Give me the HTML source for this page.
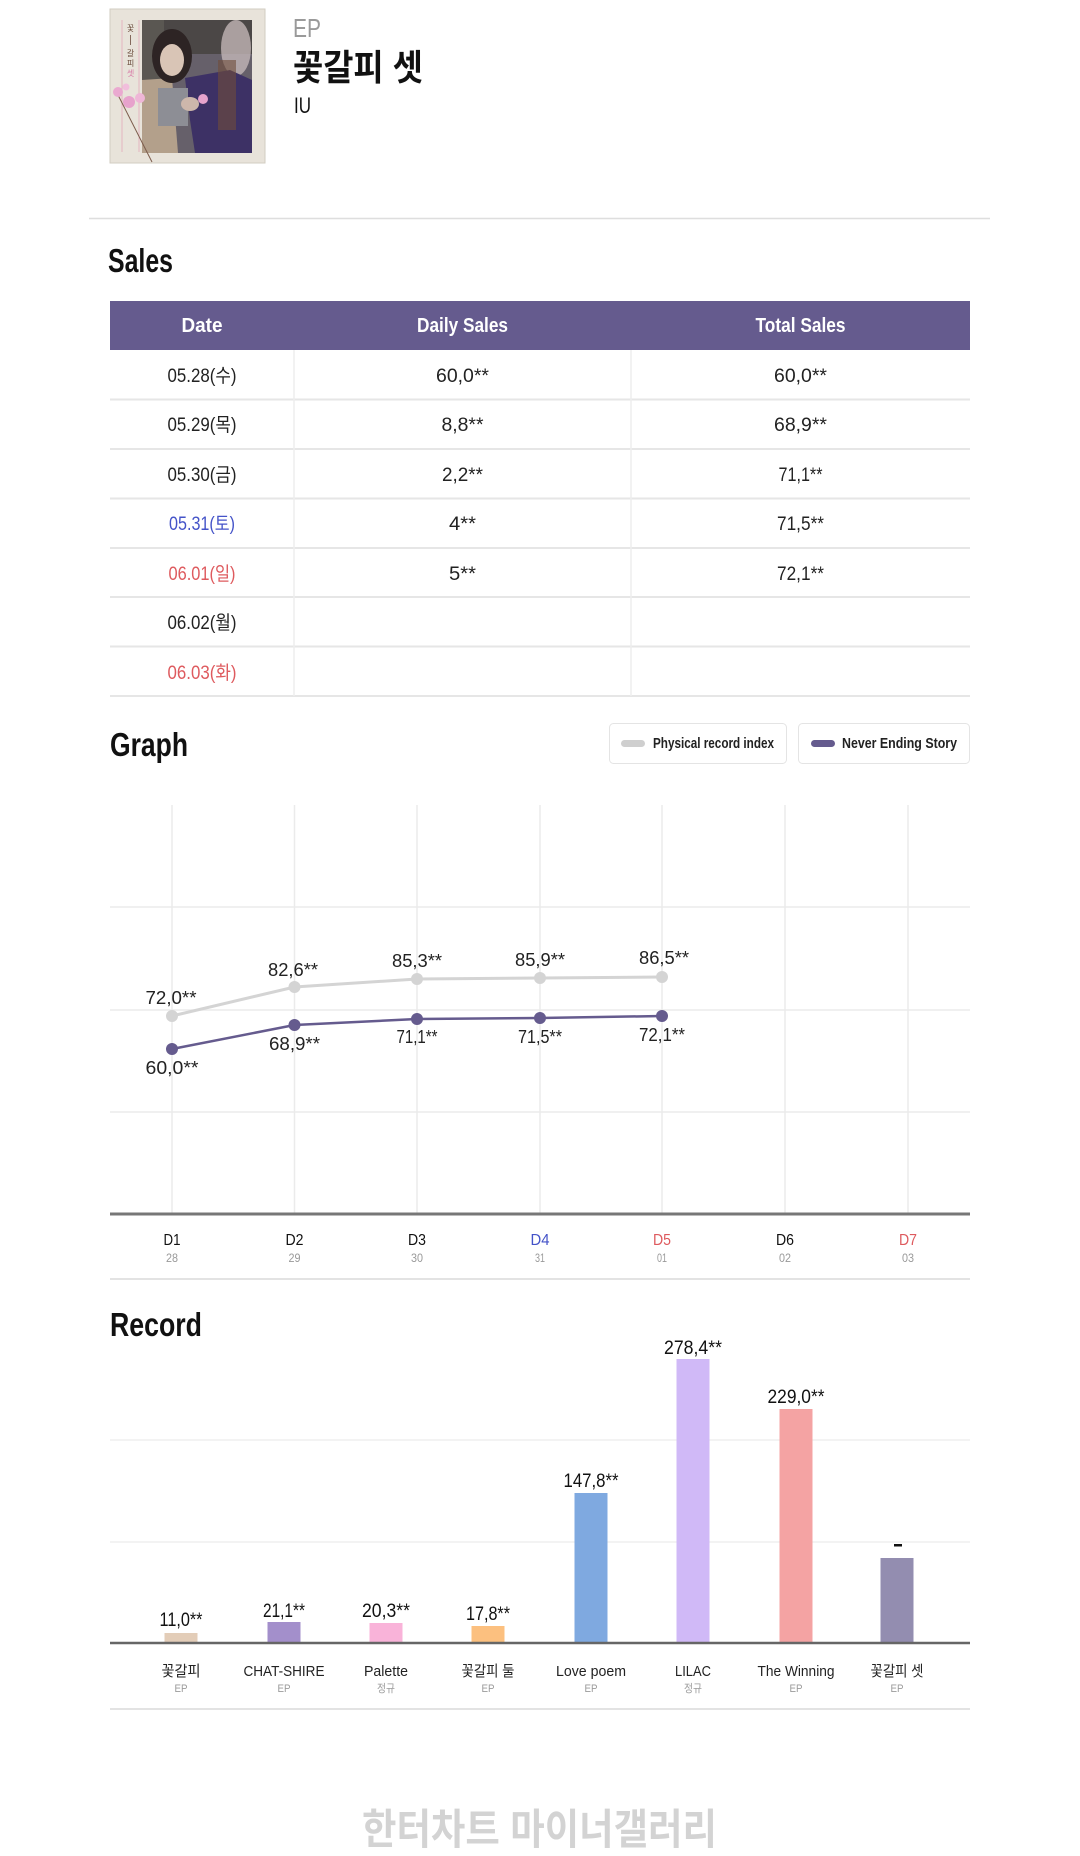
<!DOCTYPE html>
<html><head><meta charset="utf-8">
<style>
html,body{margin:0;padding:0;background:#fff;}
svg{display:block;}
text{font-family:"Liberation Sans","Noto Sans CJK KR",sans-serif;}
</style></head>
<body>
<svg width="1080" height="1856" viewBox="0 0 1080 1856" xmlns="http://www.w3.org/2000/svg">
<rect x="0" y="0" width="1080" height="1856" fill="#fff"/>

<!-- Album cover -->
<rect x="110" y="9" width="155" height="154" fill="#e8e3da" stroke="#d2ccc2" stroke-width="1"/>
<line x1="122" y1="20" x2="122" y2="152" stroke="#e3aab9" stroke-width="0.8"/>
<line x1="139" y1="20" x2="139" y2="152" stroke="#e3aab9" stroke-width="0.8"/>
<text x="130.5" y="31" font-size="8" text-anchor="middle" fill="#6a4c3c">꽃</text>
<line x1="130.5" y1="35" x2="130.5" y2="45" stroke="#6a4c3c" stroke-width="0.8"/>
<text x="130.5" y="56" font-size="8" text-anchor="middle" fill="#6a4c3c">갈</text>
<text x="130.5" y="66" font-size="8" text-anchor="middle" fill="#6a4c3c">피</text>
<text x="130.5" y="76" font-size="8" text-anchor="middle" fill="#d77aa6">셋</text>
<rect x="142" y="20" width="110" height="133" fill="#66606a"/>
<rect x="142" y="20" width="110" height="34" fill="#4b4746"/>
<rect x="142" y="20" width="22" height="60" fill="#5a5752"/>
<ellipse cx="236" cy="48" rx="15" ry="28" fill="#c9bcbe" opacity="0.75"/>
<path d="M142 80 L172 78 L178 153 L142 153 Z" fill="#b3a08b"/>
<ellipse cx="172" cy="56" rx="20" ry="27" fill="#2d2424"/>
<ellipse cx="172" cy="60" rx="12" ry="16" fill="#d9c5b6"/>
<path d="M185 78 L230 70 L252 80 L252 153 L195 153 L190 120 Z" fill="#3d3165"/>
<rect x="158" y="88" width="30" height="38" fill="#8d8e95"/>
<ellipse cx="190" cy="104" rx="9" ry="7" fill="#cdb7ab"/>
<circle cx="203" cy="99" r="5" fill="#e6a3cc"/>
<rect x="218" y="60" width="18" height="70" fill="#6f4d3b" opacity="0.6"/>
<line x1="118" y1="95" x2="152" y2="162" stroke="#7c5c4c" stroke-width="1"/>
<circle cx="118" cy="92" r="5" fill="#eaa9d0"/>
<circle cx="129" cy="102" r="6" fill="#e7a2cc"/>
<circle cx="140" cy="98" r="5" fill="#efb6d7"/>
<circle cx="126" cy="87" r="3.5" fill="#f1bedc"/>

<!-- Header text -->
<text x="293" y="37" font-size="26" fill="#9a9a9a" textLength="28" lengthAdjust="spacingAndGlyphs">EP</text>
<text x="293" y="80" font-size="36" font-weight="bold" fill="#111" textLength="130" lengthAdjust="spacingAndGlyphs">꽃갈피 셋</text>
<text x="294" y="113" font-size="22" fill="#111" textLength="17" lengthAdjust="spacingAndGlyphs">IU</text>

<line x1="89" y1="218.5" x2="990" y2="218.5" stroke="#dedede" stroke-width="1.5"/>

<!-- Sales -->
<text x="108" y="272" font-size="33" font-weight="bold" fill="#111" textLength="65" lengthAdjust="spacingAndGlyphs">Sales</text>
<rect x="110" y="301" width="860" height="49" fill="#655b8e"/>
<text x="202" y="332" font-size="20" font-weight="bold" fill="#fff" text-anchor="middle" textLength="41" lengthAdjust="spacingAndGlyphs">Date</text>
<text x="462.5" y="332" font-size="20" font-weight="bold" fill="#fff" text-anchor="middle" textLength="91" lengthAdjust="spacingAndGlyphs">Daily Sales</text>
<text x="800.5" y="332" font-size="20" font-weight="bold" fill="#fff" text-anchor="middle" textLength="90" lengthAdjust="spacingAndGlyphs">Total Sales</text>

<g stroke="#e6e6e6" stroke-width="2">
<line x1="110" y1="399.5" x2="970" y2="399.5"/>
<line x1="110" y1="449" x2="970" y2="449"/>
<line x1="110" y1="498.5" x2="970" y2="498.5"/>
<line x1="110" y1="548" x2="970" y2="548"/>
<line x1="110" y1="597" x2="970" y2="597"/>
<line x1="110" y1="646.5" x2="970" y2="646.5"/>
<line x1="110" y1="696" x2="970" y2="696"/>
</g>
<g stroke="#ededed" stroke-width="1.5">
<line x1="294" y1="350" x2="294" y2="696"/>
<line x1="631" y1="350" x2="631" y2="696"/>
</g>
<g font-size="19" text-anchor="middle" fill="#222">
<text x="202" y="382" textLength="69" lengthAdjust="spacingAndGlyphs">05.28(수)</text>
<text x="202" y="431" textLength="69" lengthAdjust="spacingAndGlyphs">05.29(목)</text>
<text x="202" y="481" textLength="69" lengthAdjust="spacingAndGlyphs">05.30(금)</text>
<text x="202" y="530" textLength="66" lengthAdjust="spacingAndGlyphs" fill="#4453c8">05.31(토)</text>
<text x="202" y="580" textLength="67" lengthAdjust="spacingAndGlyphs" fill="#de5a5e">06.01(일)</text>
<text x="202" y="629" textLength="69" lengthAdjust="spacingAndGlyphs">06.02(월)</text>
<text x="202" y="679" textLength="69" lengthAdjust="spacingAndGlyphs" fill="#de5a5e">06.03(화)</text>

<text x="462.5" y="382" textLength="53" lengthAdjust="spacingAndGlyphs">60,0**</text>
<text x="462.5" y="431" textLength="42" lengthAdjust="spacingAndGlyphs">8,8**</text>
<text x="462.5" y="481" textLength="41" lengthAdjust="spacingAndGlyphs">2,2**</text>
<text x="462.5" y="530" textLength="27" lengthAdjust="spacingAndGlyphs">4**</text>
<text x="462.5" y="580" textLength="27" lengthAdjust="spacingAndGlyphs">5**</text>

<text x="800.5" y="382" textLength="53" lengthAdjust="spacingAndGlyphs">60,0**</text>
<text x="800.5" y="431" textLength="53" lengthAdjust="spacingAndGlyphs">68,9**</text>
<text x="800.5" y="481" textLength="44" lengthAdjust="spacingAndGlyphs">71,1**</text>
<text x="800.5" y="530" textLength="47" lengthAdjust="spacingAndGlyphs">71,5**</text>
<text x="800.5" y="580" textLength="47" lengthAdjust="spacingAndGlyphs">72,1**</text>
</g>

<!-- Graph -->
<text x="110" y="756" font-size="33" font-weight="bold" fill="#111" textLength="78" lengthAdjust="spacingAndGlyphs">Graph</text>
<rect x="609.5" y="723.5" width="177" height="40" rx="4" fill="#fff" stroke="#e4e4e4" stroke-width="1"/>
<rect x="621" y="740" width="24" height="7" rx="3.5" fill="#cfcfcf"/>
<text x="653" y="748" font-size="15" font-weight="bold" fill="#222" textLength="121" lengthAdjust="spacingAndGlyphs">Physical record index</text>
<rect x="798.5" y="723.5" width="171" height="40" rx="4" fill="#fff" stroke="#e4e4e4" stroke-width="1"/>
<rect x="811" y="740" width="24" height="7" rx="3.5" fill="#655b8e"/>
<text x="842" y="748" font-size="15" font-weight="bold" fill="#222" textLength="115" lengthAdjust="spacingAndGlyphs">Never Ending Story</text>

<g stroke="#ebebeb" stroke-width="1.5">
<line x1="110" y1="907" x2="970" y2="907"/>
<line x1="110" y1="1010" x2="970" y2="1010"/>
<line x1="110" y1="1112" x2="970" y2="1112"/>
<line x1="172" y1="805" x2="172" y2="1214"/>
<line x1="294.5" y1="805" x2="294.5" y2="1214"/>
<line x1="417" y1="805" x2="417" y2="1214"/>
<line x1="540" y1="805" x2="540" y2="1214"/>
<line x1="662" y1="805" x2="662" y2="1214"/>
<line x1="785" y1="805" x2="785" y2="1214"/>
<line x1="908" y1="805" x2="908" y2="1214"/>
</g>
<line x1="110" y1="1214" x2="970" y2="1214" stroke="#777" stroke-width="3"/>

<polyline points="172,1016 294.5,987 417,979 540,978 662,977" fill="none" stroke="#d4d4d4" stroke-width="3"/>
<g fill="#d4d4d4">
<circle cx="172" cy="1016" r="6"/><circle cx="294.5" cy="987" r="6"/><circle cx="417" cy="979" r="6"/><circle cx="540" cy="978" r="6"/><circle cx="662" cy="977" r="6"/>
</g>
<polyline points="172,1049 294.5,1025 417,1019 540,1018 662,1016" fill="none" stroke="#655b8e" stroke-width="2.5"/>
<g fill="#655b8e">
<circle cx="172" cy="1049" r="6"/><circle cx="294.5" cy="1025" r="6"/><circle cx="417" cy="1019" r="6"/><circle cx="540" cy="1018" r="6"/><circle cx="662" cy="1016" r="6"/>
</g>
<g font-size="18" text-anchor="middle" fill="#222">
<text x="171" y="1004" textLength="51" lengthAdjust="spacingAndGlyphs">72,0**</text>
<text x="293" y="976" textLength="50" lengthAdjust="spacingAndGlyphs">82,6**</text>
<text x="417" y="967" textLength="50" lengthAdjust="spacingAndGlyphs">85,3**</text>
<text x="540" y="966" textLength="50" lengthAdjust="spacingAndGlyphs">85,9**</text>
<text x="664" y="964" textLength="50" lengthAdjust="spacingAndGlyphs">86,5**</text>
<text x="172" y="1074" textLength="53" lengthAdjust="spacingAndGlyphs">60,0**</text>
<text x="294.5" y="1050" textLength="51" lengthAdjust="spacingAndGlyphs">68,9**</text>
<text x="417" y="1043" textLength="41" lengthAdjust="spacingAndGlyphs">71,1**</text>
<text x="540" y="1043" textLength="44" lengthAdjust="spacingAndGlyphs">71,5**</text>
<text x="662" y="1041" textLength="46" lengthAdjust="spacingAndGlyphs">72,1**</text>
</g>
<g font-size="16" text-anchor="middle" fill="#111">
<text x="172" y="1245" textLength="17" lengthAdjust="spacingAndGlyphs">D1</text>
<text x="294.5" y="1245" textLength="18" lengthAdjust="spacingAndGlyphs">D2</text>
<text x="417" y="1245" textLength="18" lengthAdjust="spacingAndGlyphs">D3</text>
<text x="540" y="1245" textLength="19" lengthAdjust="spacingAndGlyphs" fill="#4453c8">D4</text>
<text x="662" y="1245" textLength="18" lengthAdjust="spacingAndGlyphs" fill="#de5a5e">D5</text>
<text x="785" y="1245" textLength="18" lengthAdjust="spacingAndGlyphs">D6</text>
<text x="908" y="1245" textLength="18" lengthAdjust="spacingAndGlyphs" fill="#de5a5e">D7</text>
</g>
<g font-size="12" text-anchor="middle" fill="#999">
<text x="172" y="1262" textLength="12" lengthAdjust="spacingAndGlyphs">28</text>
<text x="294.5" y="1262" textLength="12" lengthAdjust="spacingAndGlyphs">29</text>
<text x="417" y="1262" textLength="12" lengthAdjust="spacingAndGlyphs">30</text>
<text x="540" y="1262" textLength="10" lengthAdjust="spacingAndGlyphs">31</text>
<text x="662" y="1262" textLength="10" lengthAdjust="spacingAndGlyphs">01</text>
<text x="785" y="1262" textLength="12" lengthAdjust="spacingAndGlyphs">02</text>
<text x="908" y="1262" textLength="12" lengthAdjust="spacingAndGlyphs">03</text>
</g>
<line x1="110" y1="1279" x2="970" y2="1279" stroke="#e3e3e3" stroke-width="2"/>

<!-- Record -->
<text x="110" y="1336" font-size="33" font-weight="bold" fill="#111" textLength="92" lengthAdjust="spacingAndGlyphs">Record</text>
<g stroke="#efefef" stroke-width="1.5">
<line x1="110" y1="1440" x2="970" y2="1440"/>
<line x1="110" y1="1542" x2="970" y2="1542"/>
</g>
<rect x="164.5" y="1633" width="33" height="10" fill="#e3cdb8"/>
<rect x="267.5" y="1622" width="33" height="21" fill="#a38fcb"/>
<rect x="369.5" y="1623" width="33" height="20" fill="#f9b3d9"/>
<rect x="471.5" y="1626" width="33" height="17" fill="#fcc07f"/>
<rect x="574.5" y="1493" width="33" height="150" fill="#7fa9e0"/>
<rect x="676.5" y="1359" width="33" height="284" fill="#d0b9f7"/>
<rect x="779.5" y="1409" width="33" height="234" fill="#f4a3a3"/>
<rect x="880.5" y="1558" width="33" height="85" fill="#938db0"/>
<line x1="110" y1="1643" x2="970" y2="1643" stroke="#666" stroke-width="2.5"/>

<g font-size="19" text-anchor="middle" fill="#111">
<text x="181" y="1626" textLength="43" lengthAdjust="spacingAndGlyphs">11,0**</text>
<text x="284" y="1617" textLength="42" lengthAdjust="spacingAndGlyphs">21,1**</text>
<text x="386" y="1617" textLength="48" lengthAdjust="spacingAndGlyphs">20,3**</text>
<text x="488" y="1620" textLength="44" lengthAdjust="spacingAndGlyphs">17,8**</text>
<text x="591" y="1487" textLength="55" lengthAdjust="spacingAndGlyphs">147,8**</text>
<text x="693" y="1354" textLength="58" lengthAdjust="spacingAndGlyphs">278,4**</text>
<text x="796" y="1403" textLength="57" lengthAdjust="spacingAndGlyphs">229,0**</text>
</g>
<rect x="894" y="1544" width="8" height="2.5" fill="#111"/>

<g font-size="15" text-anchor="middle" fill="#222">
<text x="181" y="1676" textLength="39" lengthAdjust="spacingAndGlyphs">꽃갈피</text>
<text x="284" y="1676" textLength="81" lengthAdjust="spacingAndGlyphs">CHAT-SHIRE</text>
<text x="386" y="1676" textLength="44" lengthAdjust="spacingAndGlyphs">Palette</text>
<text x="488" y="1676" textLength="53" lengthAdjust="spacingAndGlyphs">꽃갈피 둘</text>
<text x="591" y="1676" textLength="70" lengthAdjust="spacingAndGlyphs">Love poem</text>
<text x="693" y="1676" textLength="36" lengthAdjust="spacingAndGlyphs">LILAC</text>
<text x="796" y="1676" textLength="77" lengthAdjust="spacingAndGlyphs">The Winning</text>
<text x="897" y="1676" textLength="53" lengthAdjust="spacingAndGlyphs">꽃갈피 셋</text>
</g>
<g font-size="11" text-anchor="middle" fill="#9a9a9a">
<text x="181" y="1692" textLength="13" lengthAdjust="spacingAndGlyphs">EP</text>
<text x="284" y="1692" textLength="13" lengthAdjust="spacingAndGlyphs">EP</text>
<text x="386" y="1692" textLength="18" lengthAdjust="spacingAndGlyphs">정규</text>
<text x="488" y="1692" textLength="13" lengthAdjust="spacingAndGlyphs">EP</text>
<text x="591" y="1692" textLength="13" lengthAdjust="spacingAndGlyphs">EP</text>
<text x="693" y="1692" textLength="18" lengthAdjust="spacingAndGlyphs">정규</text>
<text x="796" y="1692" textLength="13" lengthAdjust="spacingAndGlyphs">EP</text>
<text x="897" y="1692" textLength="13" lengthAdjust="spacingAndGlyphs">EP</text>
</g>
<line x1="110" y1="1709" x2="970" y2="1709" stroke="#e3e3e3" stroke-width="2"/>

<!-- Watermark -->
<text x="362" y="1844" font-size="42" font-weight="bold" fill="#d3d3d3" textLength="355" lengthAdjust="spacingAndGlyphs">한터차트 마이너갤러리</text>
</svg>
</body></html>
